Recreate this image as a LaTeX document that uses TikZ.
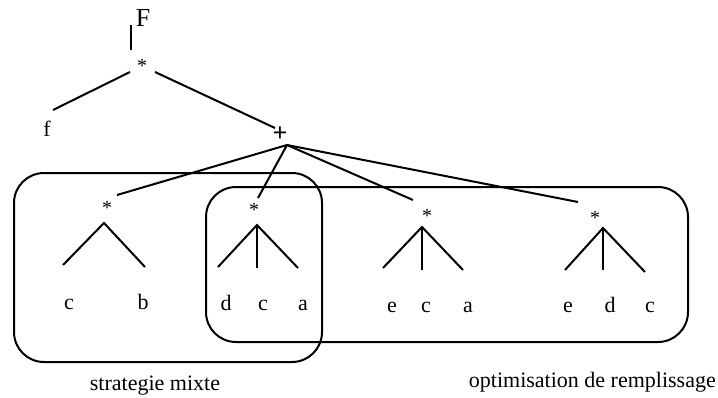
\documentclass[tikz,border=0pt]{standalone}
\usepackage{fontspec}
\setmainfont{Liberation Serif}
\begin{document}
\begin{tikzpicture}[x=1pt,y=-1pt,
  ln/.style={line width=2pt},
  box/.style={line width=2pt,rounded corners=30pt},
  lbl/.style={inner sep=0pt,anchor=base,font=\fontsize{22}{26}\selectfont},
  st/.style={inner sep=0pt,font=\fontsize{20}{22}\selectfont}]
\useasboundingbox (0,0) rectangle (718,397);
% top
\node[inner sep=0pt,font=\fontsize{26}{30}\selectfont] (F) at (143,18) {F};
\coordinate (bt) at (131,25);
\coordinate (bb) at (131,50);
\draw[line width=1.6pt] (bt) -- (bb);
\node[st] (s0) at (142,66) {*};
\node[lbl] (f) at (47,136) {f};
\node[inner sep=0pt,font=\fontsize{26}{30}\selectfont\bfseries] (p) at (280,134) {+};
\coordinate (s0l) at (130,72);
\coordinate (fu) at (53,110);
\coordinate (s0r) at (155,72);
\coordinate (pu) at (275,128);
\draw[ln] (s0l) -- (fu);
\draw[ln] (s0r) -- (pu);
\coordinate (pb) at (287,145);
% stars
\node[st] (s1) at (107,208) {*};
\node[st] (s2) at (254,210) {*};
\node[st] (s3) at (427,216) {*};
\node[st] (s4) at (595,218) {*};
\coordinate (e1) at (117,195);
\coordinate (e2) at (258,198);
\coordinate (e3) at (413,200);
\coordinate (e4) at (578,202);
\draw[ln] (pb) -- (e1);
\draw[ln] (pb) -- (e2);
\draw[ln] (pb) -- (e3);
\draw[ln] (pb) -- (e4);
% tree 1
\coordinate (a1) at (104,223);
\coordinate (l1a) at (63,265);
\coordinate (l1b) at (145,267);
\draw[ln] (l1a) -- (a1) -- (l1b);
\node[lbl] (c1) at (69,309) {c};
\node[lbl] (b1) at (143,309) {b};
% tree 2
\coordinate (a2) at (257,225);
\coordinate (l2a) at (218,267);
\coordinate (l2b) at (257,268);
\coordinate (l2c) at (298,268);
\draw[ln] (l2a) -- (a2) -- (l2c);
\draw[ln] (a2) -- (l2b);
\node[lbl] (d2) at (226,310) {d};
\node[lbl] (c2) at (263,310) {c};
\node[lbl] (a2l) at (303,310) {a};
% tree 3
\coordinate (a3) at (422,227);
\coordinate (l3a) at (383,268);
\coordinate (l3b) at (422,270);
\coordinate (l3c) at (463,270);
\draw[ln] (l3a) -- (a3) -- (l3c);
\draw[ln] (a3) -- (l3b);
\node[lbl] (e3l) at (392,312) {e};
\node[lbl] (c3) at (426,312) {c};
\node[lbl] (a3l) at (468,312) {a};
% tree 4
\coordinate (a4) at (603,228);
\coordinate (l4a) at (565,270);
\coordinate (l4b) at (603,270);
\coordinate (l4c) at (645,272);
\draw[ln] (l4a) -- (a4) -- (l4c);
\draw[ln] (a4) -- (l4b);
\node[lbl] (e4l) at (568,312) {e};
\node[lbl] (d4) at (610,312) {d};
\node[lbl] (c4) at (650,312) {c};
% boxes
\draw[box] (14,173) rectangle (322,362);
\draw[box] (206,187) rectangle (688,342);
% labels
\node[lbl] (L1) at (155,390) {strategie mixte};
\node[lbl,anchor=base east] (L2) at (716,387) {optimisation de remplissage};
\end{tikzpicture}
\end{document}
